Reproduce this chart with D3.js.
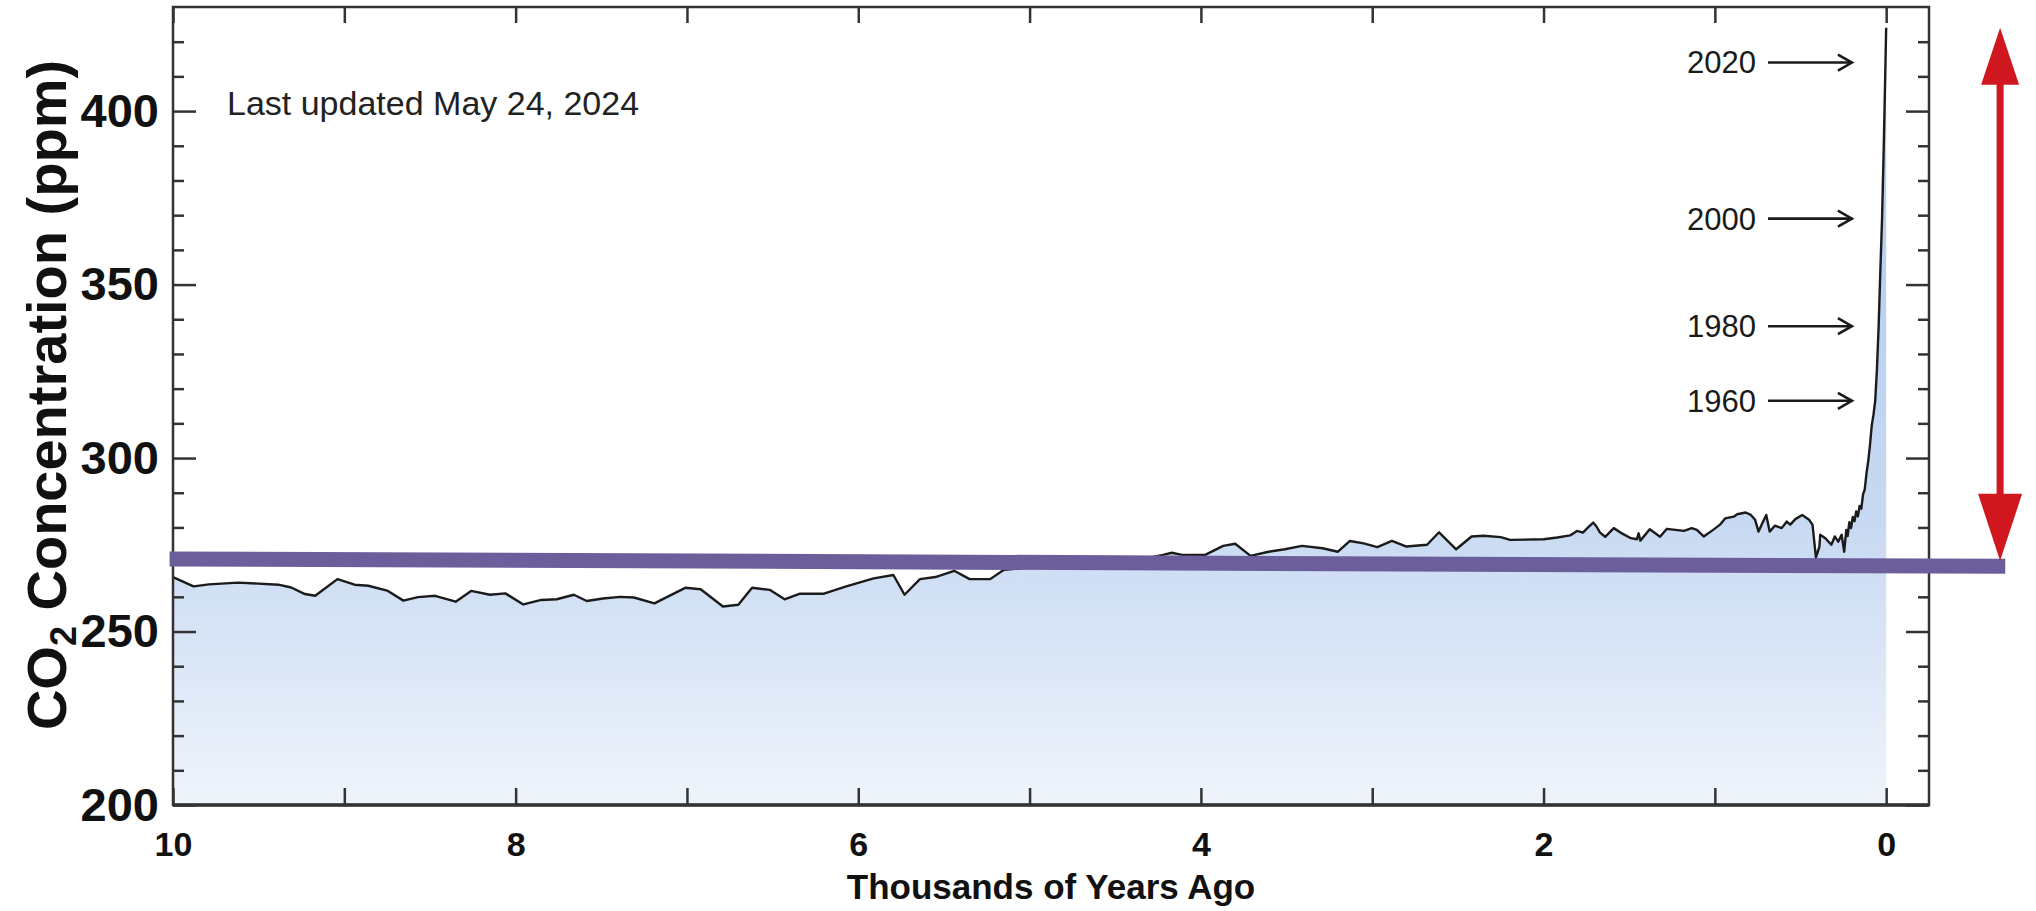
<!DOCTYPE html>
<html lang="en">
<head>
<meta charset="UTF-8">
<title>CO2 concentration, last 10,000 years</title>
<script src="https://cdn.jsdelivr.net/npm/d3@7"></script>
<style>
  body { margin: 0; background: #fff; }
  svg { display: block; font-family: "Liberation Sans", Arial, Helvetica, sans-serif; }
</style>
</head>
<body>
<script>
// ---- data ----
// thousands of years ago
const kyrAgo = [
  10.00, 9.88, 9.79, 9.62, 9.385, 9.31, 9.23, 9.17, 9.04, 8.94,
  8.86, 8.75, 8.655, 8.57, 8.47, 8.35, 8.26, 8.15, 8.06, 7.955,
  7.85, 7.76, 7.66, 7.585, 7.49, 7.39, 7.31, 7.19, 7.01, 6.92,
  6.79, 6.70, 6.62, 6.515, 6.43, 6.34, 6.20, 6.07, 5.91, 5.795,
  5.73, 5.64, 5.55, 5.44, 5.35, 5.23, 5.15, 5.00, 4.85, 4.70,
  4.55, 4.40, 4.28, 4.22, 4.17, 4.11, 3.975, 3.87, 3.80, 3.71,
  3.605, 3.51, 3.41, 3.29, 3.20, 3.13, 3.05, 2.97, 2.885, 2.80,
  2.68, 2.61, 2.51, 2.42, 2.35, 2.25, 2.195, 2.00, 1.92, 1.845,
  1.805, 1.77, 1.74, 1.71, 1.69, 1.67, 1.64, 1.59, 1.54, 1.49,
  1.455, 1.445, 1.435, 1.38, 1.32, 1.28, 1.23, 1.18, 1.135, 1.105,
  1.065, 1.01, 0.97, 0.94, 0.89, 0.87, 0.82, 0.79, 0.765, 0.745,
  0.725, 0.70, 0.68, 0.65, 0.61, 0.58, 0.56, 0.53, 0.49, 0.45,
  0.43, 0.41, 0.39, 0.385, 0.355, 0.32, 0.30, 0.28, 0.26, 0.245,
  0.233, 0.225, 0.215, 0.205, 0.195, 0.185, 0.175, 0.165, 0.155, 0.145,
  0.135, 0.125, 0.115, 0.105, 0.095, 0.084, 0.074, 0.064, 0.054, 0.044,
  0.034, 0.024, 0.014, 0.004, 0.0
];
// ppm
const co2 = [
  265.7, 263.0, 263.6, 264.1, 263.5, 262.7, 260.8, 260.3, 265.1, 263.5,
  263.2, 261.8, 258.9, 259.9, 260.3, 258.6, 261.7, 260.6, 261.0, 257.8,
  259.1, 259.3, 260.6, 258.8, 259.5, 260.0, 259.8, 258.1, 262.6, 262.2,
  257.2, 257.7, 262.6, 262.0, 259.3, 260.9, 260.9, 263.0, 265.3, 266.3,
  260.6, 265.1, 265.7, 267.5, 265.1, 265.1, 267.8, 268.4, 268.8, 269.3,
  269.8, 270.6, 271.5, 272.1, 272.7, 272.1, 272.1, 274.7, 275.3, 271.8,
  273.0, 273.7, 274.7, 274.0, 273.0, 276.1, 275.4, 274.3, 276.1, 274.5,
  275.0, 278.6, 273.7, 277.4, 277.6, 277.2, 276.4, 276.6, 277.1, 277.7,
  279.0, 278.5, 280.0, 281.4, 280.2, 278.5, 277.3, 279.8, 278.2, 276.9,
  276.6, 278.3, 276.2, 279.5, 277.3, 279.6, 279.3, 279.0, 279.8, 279.3,
  277.4, 279.3, 280.8, 282.6, 283.1, 283.8, 284.3, 283.6, 282.2, 278.8,
  281.0, 283.6, 278.8, 280.5, 279.8, 281.7, 280.8, 282.4, 283.6, 282.2,
  280.8, 271.4, 274.4, 277.9, 276.9, 275.0, 277.4, 275.9, 277.9, 273.0,
  279.3, 277.5, 281.5, 279.8, 283.0, 281.8, 284.6, 283.2, 286.2, 285.4,
  289.5, 291.0, 295.5, 299.0, 303.5, 309.5, 312.5, 316.5, 325.5, 338.0,
  354.0, 369.0, 390.0, 414.0, 424.0
];

const xTickValues = [10, 9, 8, 7, 6, 5, 4, 3, 2, 1, 0];
const xLabelValues = [10, 8, 6, 4, 2, 0];
const yMajorTicks = [200, 250, 300, 350, 400];
const yMinorTicks = [210, 220, 230, 240, 260, 270, 280, 290, 310, 320, 330, 340, 360, 370, 380, 390, 410, 420];

// year markers on the right and their ppm level
const yearLabels = ["2020", "2000", "1980", "1960"];
const yearCo2 = [414, 369, 338, 316.5];

const updatedText = "Last updated May 24, 2024";

// ---- layout ----
const W = 2036, H = 911;
const margin = {top: 7, right: 107, bottom: 106, left: 173};

const svg = d3.select("body").append("svg")
  .attr("width", W)
  .attr("height", H);

const x = d3.scaleLinear().domain([10, -0.25]).range([margin.left, W - margin.right]);
const y = d3.scaleLinear().domain([200, 430]).range([H - margin.bottom, margin.top]);

const series = kyrAgo.map((k, i) => ({k: k, v: co2[i]}));

// gradient fill under the curve
const grad = svg.append("defs").append("linearGradient")
  .attr("id", "fillGrad")
  .attr("gradientUnits", "userSpaceOnUse")
  .attr("x1", 0).attr("x2", 0)
  .attr("y1", y(430)).attr("y2", y(200));
grad.append("stop").attr("offset", 0).attr("stop-color", "#a9c8ef");
grad.append("stop").attr("offset", 0.64).attr("stop-color", "#c7d9f2");
grad.append("stop").attr("offset", 1).attr("stop-color", "#eff4fb");

const area = d3.area()
  .x(d => x(d.k))
  .y0(y(200))
  .y1(d => y(d.v));

svg.append("path")
  .datum(series)
  .attr("d", area)
  .attr("fill", "url(#fillGrad)");

const line = d3.line()
  .x(d => x(d.k))
  .y(d => y(d.v));

svg.append("path")
  .datum(series)
  .attr("d", line)
  .attr("fill", "none")
  .attr("stroke", "#1b1b1b")
  .attr("stroke-width", 2.4)
  .attr("stroke-linejoin", "round");

// ---- axes ----
function styleAxis(g) {
  g.select(".domain").remove();
  g.selectAll(".tick line").attr("stroke", "#333").attr("stroke-width", 2.5);
  g.selectAll(".tick text").attr("fill", "#111").style("font-weight", "bold");
}

// left
svg.append("g")
  .attr("transform", `translate(${margin.left},0)`)
  .call(d3.axisLeft(y).tickValues(yMinorTicks).tickSize(-11).tickFormat(""))
  .call(styleAxis);
svg.append("g")
  .attr("transform", `translate(${margin.left},0)`)
  .call(d3.axisLeft(y).tickValues(yMajorTicks).tickSize(-23).tickPadding(14).tickFormat(d3.format("d")))
  .call(styleAxis)
  .call(g => g.selectAll(".tick text").style("font-size", "47px"));

// right
svg.append("g")
  .attr("transform", `translate(${W - margin.right},0)`)
  .call(d3.axisRight(y).tickValues(yMinorTicks).tickSize(-11).tickFormat(""))
  .call(styleAxis);
svg.append("g")
  .attr("transform", `translate(${W - margin.right},0)`)
  .call(d3.axisRight(y).tickValues(yMajorTicks).tickSize(-23).tickFormat(""))
  .call(styleAxis);

// bottom
svg.append("g")
  .attr("transform", `translate(0,${H - margin.bottom})`)
  .call(d3.axisBottom(x).tickValues(xTickValues).tickSize(-17).tickPadding(27)
    .tickFormat(d => xLabelValues.includes(d) ? d : ""))
  .call(styleAxis)
  .call(g => g.selectAll(".tick text").style("font-size", "34px"));

// top
svg.append("g")
  .attr("transform", `translate(0,${margin.top})`)
  .call(d3.axisTop(x).tickValues(xTickValues).tickSize(-16).tickFormat(""))
  .call(styleAxis);

// frame
svg.append("rect")
  .attr("x", margin.left)
  .attr("y", margin.top)
  .attr("width", W - margin.left - margin.right)
  .attr("height", H - margin.top - margin.bottom)
  .attr("fill", "none")
  .attr("stroke", "#333")
  .attr("stroke-width", 2.5);
svg.append("line")
  .attr("x1", margin.left).attr("x2", W - margin.right)
  .attr("y1", H - margin.bottom).attr("y2", H - margin.bottom)
  .attr("stroke", "#333").attr("stroke-width", 3.5);

// axis titles
svg.append("text")
  .attr("x", (margin.left + W - margin.right) / 2)
  .attr("y", 899)
  .attr("text-anchor", "middle")
  .style("font-size", "35px")
  .style("font-weight", "bold")
  .attr("fill", "#111")
  .text("Thousands of Years Ago");

const yTitle = svg.append("text")
  .attr("transform", "translate(66,395) rotate(-90)")
  .attr("text-anchor", "middle")
  .style("font-size", "56px")
  .style("font-weight", "bold")
  .attr("fill", "#111");
yTitle.append("tspan").text("CO");
yTitle.append("tspan").attr("dy", 10).style("font-size", "36px").text("2");
yTitle.append("tspan").attr("dy", -10).text(" Concentration (ppm)");

// last updated note
svg.append("text")
  .attr("x", 227)
  .attr("y", 115)
  .style("font-size", "34px")
  .attr("fill", "#222")
  .text(updatedText);

// year arrows
const arrowFrom = 0.69, arrowTo = 0.2;
const marks = svg.append("g").selectAll("g")
  .data(yearLabels.map((t, i) => ({t: t, v: yearCo2[i]})))
  .join("g")
  .attr("transform", d => `translate(0,${y(d.v)})`);

marks.append("text")
  .attr("x", x(arrowFrom) - 12)
  .attr("dy", "0.35em")
  .attr("text-anchor", "end")
  .style("font-size", "31px")
  .attr("fill", "#1a1a1a")
  .text(d => d.t);
marks.append("line")
  .attr("x1", x(arrowFrom)).attr("x2", x(arrowTo))
  .attr("stroke", "#1a1a1a").attr("stroke-width", 2.6);
marks.append("path")
  .attr("d", `M${x(arrowTo) - 14},-8 L${x(arrowTo)},0 L${x(arrowTo) - 14},8`)
  .attr("fill", "none")
  .attr("stroke", "#1a1a1a").attr("stroke-width", 2.6);

// purple pre-industrial level line
svg.append("line")
  .attr("x1", x(10.02)).attr("y1", y(270.9))
  .attr("x2", x(-0.695)).attr("y2", y(268.8))
  .attr("stroke", "#6c5e9b")
  .attr("stroke-width", 15);

// red double arrow
const ax = x(-0.665), aTop = y(424), aBot = y(270.4);
const red = "#d0161e";
svg.append("line")
  .attr("x1", ax).attr("x2", ax)
  .attr("y1", aTop + 50).attr("y2", aBot - 60)
  .attr("stroke", red).attr("stroke-width", 7);
svg.append("path")
  .attr("d", `M${ax},${aTop} L${ax - 19},${aTop + 57} L${ax + 19},${aTop + 57} Z`)
  .attr("fill", red);
svg.append("path")
  .attr("d", `M${ax},${aBot} L${ax - 22},${aBot - 67} L${ax + 22},${aBot - 67} Z`)
  .attr("fill", red);
</script>
</body>
</html>
